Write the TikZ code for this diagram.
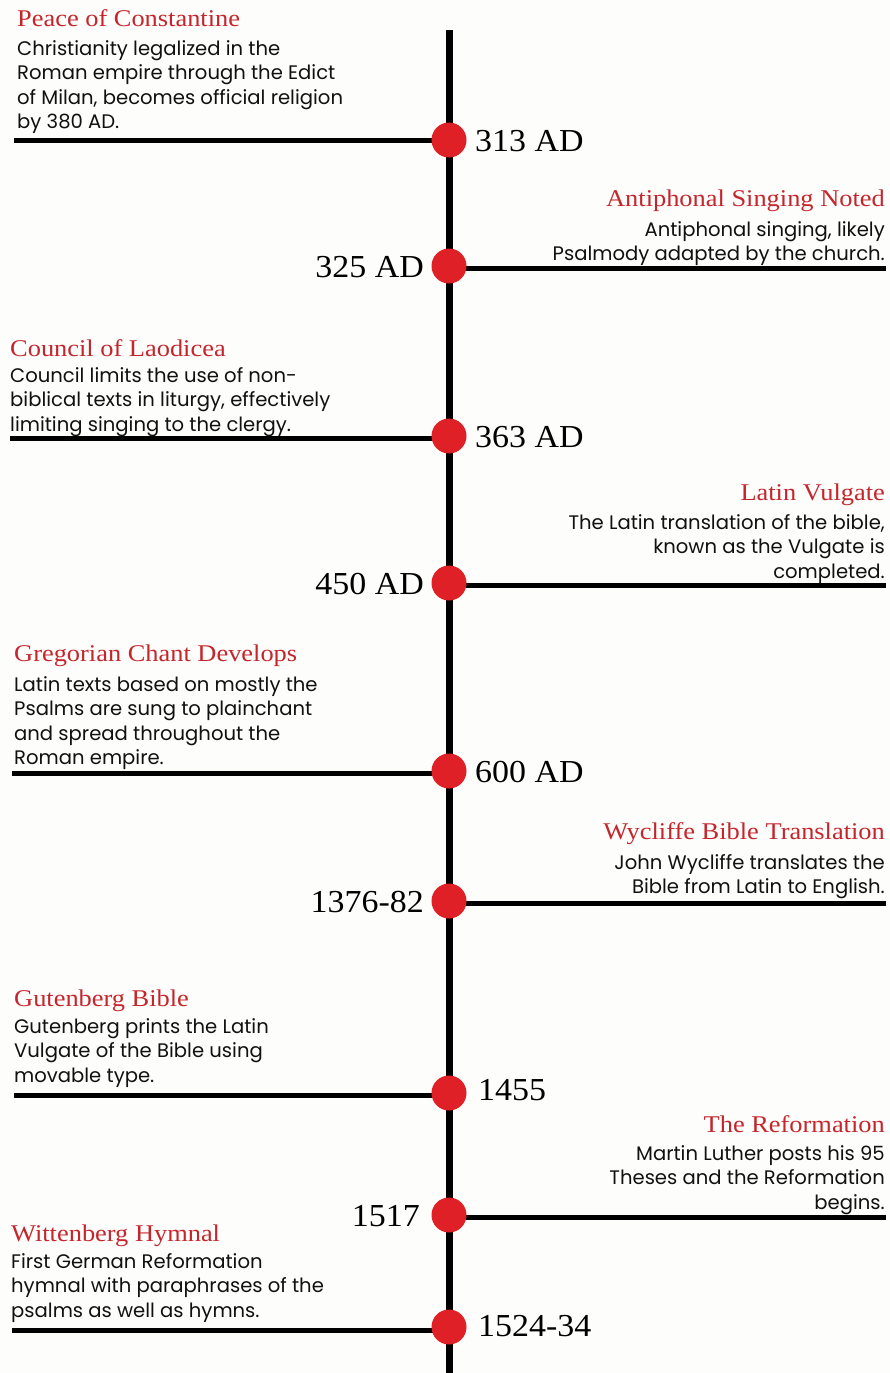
\documentclass[tikz,border=0pt]{standalone}
\usepackage{fontspec}
\newfontfamily\bodyfont{Poppins}
\newfontfamily\titlefont[FakeStretch=1.1]{Liberation Serif}
\newfontfamily\datefont[FakeStretch=1.06]{Liberation Serif}
\definecolor{dotred}{HTML}{DF2027}
\definecolor{titlered}{HTML}{C5262D}
\definecolor{bg}{HTML}{FDFDFB}
\definecolor{bodytext}{HTML}{111111}
\tikzset{
  titleL/.style={anchor=base west,inner sep=0pt,font=\titlefont\fontsize{24}{27}\selectfont,text=titlered},
  titleR/.style={anchor=base east,inner sep=0pt,font=\titlefont\fontsize{24}{27}\selectfont,text=titlered},
  bodyL/.style={anchor=base west,inner sep=0pt,align=left,text=bodytext,font=\bodyfont\fontsize{19.6}{24.5}\selectfont},
  bodyR/.style={anchor=base east,inner sep=0pt,align=right,text=bodytext,font=\bodyfont\fontsize{19.6}{24.5}\selectfont},
  dateL/.style={anchor=base east,inner sep=0pt,font=\datefont\fontsize{32}{36}\selectfont},
  dateR/.style={anchor=base west,inner sep=0pt,font=\datefont\fontsize{32}{36}\selectfont},
  dot/.style={circle,fill=dotred,inner sep=0pt,minimum size=35pt},
  branch/.style={line width=5pt},
  spine/.style={line width=7pt}
}
\begin{document}
\begin{tikzpicture}[x=1pt,y=-1pt]
\fill[bg] (0,0) rectangle (890,1373);
\useasboundingbox (0,0) rectangle (890,1373);
\coordinate (top) at (449,30);
\coordinate (bot) at (449,1373);
\draw[spine] (top) -- (bot);
% 1
\coordinate (e1) at (14,140);
\draw[branch] (e1) -- (449,140);
\node[dot] (d1) at (449,140) {};
\node[titleL] (t1) at (17,26) {Peace of Constantine};
\node[bodyL] (b1) at (17,128.5) {Christianity legalized in the\\Roman empire through the Edict\\of Milan, becomes official religion\\by 380 AD.};
\node[dateR] (y1) at (475,151) {313 AD};
% 2
\coordinate (e2) at (886,268);
\draw[branch] (e2) -- (449,268);
\node[dot] (d2) at (449,266) {};
\node[titleR] (t2) at (885,206) {Antiphonal Singing Noted};
\node[bodyR] (b2) at (885,260.5) {Antiphonal singing, likely\\Psalmody adapted by the church.};
\node[dateL] (y2) at (424,277) {325 AD};
% 3
\coordinate (e3) at (10,438);
\draw[branch] (e3) -- (449,438);
\node[dot] (d3) at (449,436) {};
\node[titleL] (t3) at (10,356) {Council of Laodicea};
\node[bodyL] (b3) at (10,431) {Council limits the use of non-\\biblical texts in liturgy, effectively\\limiting singing to the clergy.};
\node[dateR] (y3) at (475,447) {363 AD};
% 4
\coordinate (e4) at (886,585);
\draw[branch] (e4) -- (449,585);
\node[dot] (d4) at (449,583) {};
\node[titleR] (t4) at (885,500) {Latin Vulgate};
\node[bodyR] (b4) at (885,578) {The Latin translation of the bible,\\known as the Vulgate is\\completed.};
\node[dateL] (y4) at (424,594) {450 AD};
% 5
\coordinate (e5) at (12,773);
\draw[branch] (e5) -- (449,773);
\node[dot] (d5) at (449,771) {};
\node[titleL] (t5) at (14,661) {Gregorian Chant Develops};
\node[bodyL] (b5) at (14,764.5) {Latin texts based on mostly the\\Psalms are sung to plainchant\\and spread throughout the\\Roman empire.};
\node[dateR] (y5) at (475,782) {600 AD};
% 6
\coordinate (e6) at (886,903);
\draw[branch] (e6) -- (449,903);
\node[dot] (d6) at (449,901) {};
\node[titleR] (t6) at (885,839) {Wycliffe Bible Translation};
\node[bodyR] (b6) at (885,893.5) {John Wycliffe translates the\\Bible from Latin to English.};
\node[dateL] (y6) at (424,912) {1376-82};
% 7
\coordinate (e7) at (14,1095);
\draw[branch] (e7) -- (449,1095);
\node[dot] (d7) at (449,1093) {};
\node[titleL] (t7) at (14,1006) {Gutenberg Bible};
\node[bodyL] (b7) at (14,1082) {Gutenberg prints the Latin\\Vulgate of the Bible using\\movable type.};
\node[dateR] (y7) at (478,1100) {1455};
% 8
\coordinate (e8) at (886,1217);
\draw[branch] (e8) -- (449,1217);
\node[dot] (d8) at (449,1215) {};
\node[titleR] (t8) at (885,1132) {The Reformation};
\node[bodyR] (b8) at (885,1209) {Martin Luther posts his 95\\Theses and the Reformation\\begins.};
\node[dateL] (y8) at (420,1226) {1517};
% 9
\coordinate (e9) at (12,1330);
\draw[branch] (e9) -- (449,1330);
\node[dot] (d9) at (449,1327) {};
\node[titleL] (t9) at (11,1241) {Wittenberg Hymnal};
\node[bodyL] (b9) at (11,1317) {First German Reformation\\hymnal with paraphrases of the\\psalms as well as hymns.};
\node[dateR] (y9) at (478,1336) {1524-34};
\end{tikzpicture}
\end{document}
